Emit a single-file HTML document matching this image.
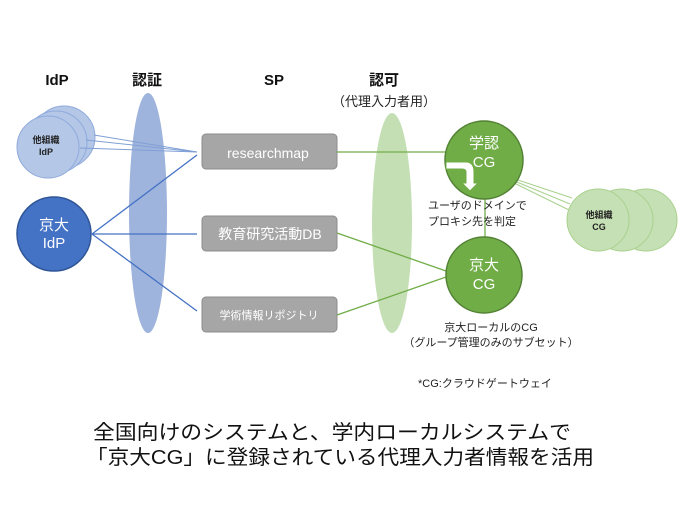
<!DOCTYPE html>
<html><head><meta charset="utf-8"><style>
html,body{margin:0;padding:0;background:#fff;}
svg{display:block;font-family:"Liberation Sans","Noto Sans CJK JP",sans-serif;}
</style></head><body>
<svg width="684" height="512" viewBox="0 0 684 512" xmlns="http://www.w3.org/2000/svg">
<g font-weight="bold" font-size="15" text-anchor="middle" fill="#111">
<text x="57" y="85">IdP</text>
<text x="147" y="85">認証</text>
<text x="274" y="85">SP</text>
<text x="384" y="85">認可</text>
</g>
<text x="384" y="106" font-size="13" text-anchor="middle" fill="#222">（代理入力者用）</text>

<ellipse cx="148" cy="213" rx="19" ry="120" fill="#9fb4dc"/>
<g fill="#b4c7e7" stroke="#8faadc" stroke-width="1">
<circle cx="64" cy="137" r="31"/>
<circle cx="56" cy="142" r="31"/>
<circle cx="48" cy="147" r="31"/>
</g>
<text x="46" y="143" font-size="9" font-weight="bold" text-anchor="middle" fill="#222">他組織</text>
<text x="46" y="155" font-size="9" font-weight="bold" text-anchor="middle" fill="#222">IdP</text>
<g stroke="#7f9fd6" stroke-width="1" fill="none">
<line x1="94" y1="135" x2="197" y2="152"/>
<line x1="86" y1="140" x2="197" y2="152"/>
<line x1="80" y1="148" x2="197" y2="152"/>
</g>
<circle cx="54" cy="234" r="37" fill="#4472c4" stroke="#2f5597" stroke-width="1.5"/>
<text x="54" y="230" font-size="15" text-anchor="middle" fill="#fff">京大</text>
<text x="54" y="248" font-size="15" text-anchor="middle" fill="#fff">IdP</text>
<g stroke="#4472c4" stroke-width="1.3">
<line x1="92" y1="234" x2="197" y2="155"/>
<line x1="92" y1="234" x2="197" y2="234"/>
<line x1="92" y1="234" x2="197" y2="311"/>
</g>
<g fill="#a6a6a6" stroke="#8c8c8c" stroke-width="1">
<rect x="202" y="134" width="135" height="35" rx="4"/>
<rect x="202" y="216" width="135" height="35" rx="4"/>
<rect x="202" y="297" width="135" height="35" rx="4"/>
</g>
<g fill="#fff" text-anchor="middle">
<text x="268" y="158" font-size="14">researchmap</text>
<text x="270" y="239" font-size="14">教育研究活動DB</text>
<text x="269" y="319" font-size="11">学術情報リポジトリ</text>
</g>
<ellipse cx="392" cy="223" rx="20" ry="110" fill="#c5dfb4"/>
<g stroke="#70ad47" stroke-width="1.3">
<line x1="337" y1="152" x2="446" y2="152"/>
<line x1="337" y1="233" x2="446" y2="271"/>
<line x1="337" y1="315" x2="446" y2="277"/>
<line x1="485" y1="190" x2="485" y2="238"/>
</g>
<g fill="#c5e0b4" stroke="#a9d18e" stroke-width="1">
<circle cx="646" cy="220" r="31"/>
<circle cx="622" cy="220" r="31"/>
<circle cx="598" cy="220" r="31"/>
</g>
<g stroke="#a9d18e" stroke-width="1">
<line x1="512" y1="178" x2="572" y2="198"/>
<line x1="512" y1="180" x2="570" y2="204"/>
<line x1="512" y1="182" x2="569" y2="210"/>
</g>
<text x="599" y="218" font-size="9" font-weight="bold" text-anchor="middle" fill="#222">他組織</text>
<text x="599" y="230" font-size="9" font-weight="bold" text-anchor="middle" fill="#222">CG</text>
<circle cx="484" cy="160" r="39" fill="#70ad47" stroke="#548235" stroke-width="1.5"/>
<circle cx="484" cy="275" r="38" fill="#70ad47" stroke="#548235" stroke-width="1.5"/>
<g fill="#fff" font-size="15" text-anchor="middle">
<text x="484" y="148">学認</text>
<text x="484" y="167">CG</text>
<text x="484" y="270">京大</text>
<text x="484" y="289">CG</text>
</g>
<path d="M446,162 L466,162 Q474,162 474,172 L474,183 L478,183 L470,191 L462,183 L466,183 L466,172 Q466,169 462,169 L446,169 Z" fill="#fff" stroke="#70ad47" stroke-width="1"/>
<g font-size="11" fill="#222">
<text x="428" y="209">ユーザのドメインで</text>
<text x="428" y="225">プロキシ先を判定</text>
</g>
<g font-size="11" fill="#222" text-anchor="middle">
<text x="491" y="331">京大ローカルのCG</text>
<text x="491" y="346">（グループ管理のみのサブセット）</text>
</g>
<text x="418" y="387" font-size="11" fill="#222">*CG:クラウドゲートウェイ</text>
<g font-size="20" fill="#111">
<text x="93" y="439" textLength="478" lengthAdjust="spacingAndGlyphs">全国向けのシステムと、学内ローカルシステムで</text>
<text x="86" y="464" textLength="508" lengthAdjust="spacingAndGlyphs">「京大CG」に登録されている代理入力者情報を活用</text>
</g>
</svg>
</body></html>
